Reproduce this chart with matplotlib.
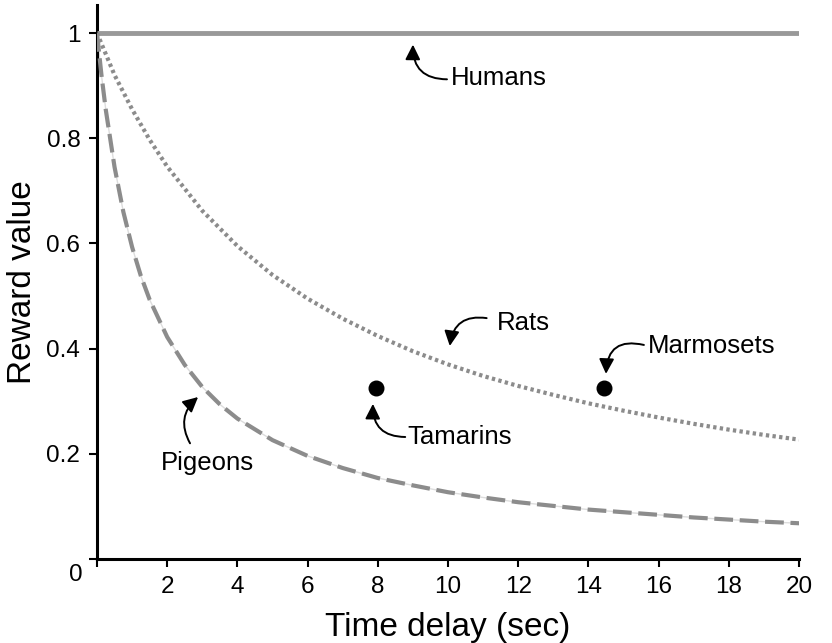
import matplotlib
matplotlib.use("Agg")
import matplotlib.pyplot as plt

plt.rcParams['font.family'] = ['Liberation Sans', 'DejaVu Sans']

# Data
rats_x = [0, 0.5, 1, 1.5, 2, 3, 4, 5, 6, 7, 8, 9, 10, 11, 12, 13, 14, 15, 16, 17, 18, 19, 20]
rats_y = [1.0, 0.92, 0.855, 0.797, 0.746, 0.662, 0.595, 0.54, 0.495, 0.457, 0.424, 0.395,
          0.37, 0.348, 0.329, 0.312, 0.296, 0.282, 0.269, 0.257, 0.246, 0.236, 0.227]
pigeons_x = [0, 0.125, 0.25, 0.5, 0.75, 1, 1.25, 1.5, 2, 2.5, 3, 3.5, 4, 5, 6, 7, 8, 9, 10,
             11, 12, 13, 14, 15, 16, 17, 18, 19, 20]
pigeons_y = [1.0, 0.921, 0.854, 0.745, 0.66, 0.593, 0.538, 0.493, 0.422, 0.369, 0.327,
             0.294, 0.267, 0.226, 0.196, 0.173, 0.154, 0.14, 0.127, 0.117, 0.108, 0.101,
             0.094, 0.089, 0.084, 0.079, 0.075, 0.071, 0.068]
humans_x = [0, 20]
humans_y = [1.0, 1.0]
monkeys = ["Tamarins", "Marmosets"]
monkeys_x = [7.95, 14.45]
monkeys_y = [0.325, 0.325]
xticks = [2, 4, 6, 8, 10, 12, 14, 16, 18, 20]
yticks = [0.2, 0.4, 0.6, 0.8, 1.0]
ytick_labels = ["0.2", "0.4", "0.6", "0.8", "1"]

fig = plt.figure(figsize=(8.32, 6.43), dpi=100)
ax = fig.add_axes([0.1166, 0.1306, 0.8438, 0.8614])

gray = '#8c8c8c'
ax.plot(humans_x, humans_y, color='#999999', lw=3.5, solid_capstyle='butt', zorder=3)
ax.plot(rats_x, rats_y, color=gray, lw=3, linestyle=(0, (0.8, 0.8)), zorder=3)
ax.plot(pigeons_x, pigeons_y, color='#dddddd', lw=1, zorder=2)
ax.plot(pigeons_x, pigeons_y, color=gray, lw=3, linestyle=(0, (4.5, 1.6)), zorder=3)
ax.scatter(monkeys_x, monkeys_y, s=110, color='black', zorder=4)

ax.set_xlim(0, 20)
ax.set_ylim(0, 1.053)
ax.spines['top'].set_visible(False)
ax.spines['right'].set_visible(False)
for s in ['left', 'bottom']:
    ax.spines[s].set_linewidth(2.2)
ax.set_xticks([0] + xticks)
ax.set_xticklabels([""] + [str(t) for t in xticks])
ax.set_yticks([0] + yticks)
ax.set_yticklabels([""] + ytick_labels)
ax.tick_params(direction='out', length=6, width=1.5, labelsize=17.5, pad=6)
ax.text(-0.4, -0.03, "0", ha='right', va='center', fontsize=17.5)

ax.set_xlabel("Time delay (sec)", fontsize=24, labelpad=10)
ax.set_ylabel("Reward value", fontsize=24, labelpad=6)

afs = 18.5
aprops = dict(arrowstyle='-|>,head_length=0.5,head_width=0.25', color='black', lw=1.4,
              mutation_scale=18, shrinkA=0, shrinkB=0)

def arrow(start, tip, rad):
    p = dict(aprops)
    p['connectionstyle'] = f'arc3,rad={rad}'
    ax.annotate("", xy=tip, xytext=start, arrowprops=p)

ax.text(10.08, 0.914, "Humans", ha='left', va='center', fontsize=afs)
arrow((9.97, 0.912), (9.0, 0.978), -0.5)

ax.text(11.4, 0.449, "Rats", ha='left', va='center', fontsize=afs)
arrow((11.1, 0.458), (10.05, 0.405), 0.5)

ax.text(15.68, 0.405, "Marmosets", ha='left', va='center', fontsize=afs)
arrow((15.58, 0.407), (14.5, 0.352), 0.6)

ax.text(8.85, 0.232, "Tamarins", ha='left', va='center', fontsize=afs)
arrow((8.78, 0.232), (7.86, 0.295), -0.5)

ax.text(3.16, 0.183, "Pigeons", ha='center', va='center', fontsize=afs)
arrow((2.65, 0.22), (2.88, 0.308), -0.4)

fig.savefig("out.png", dpi=100)
